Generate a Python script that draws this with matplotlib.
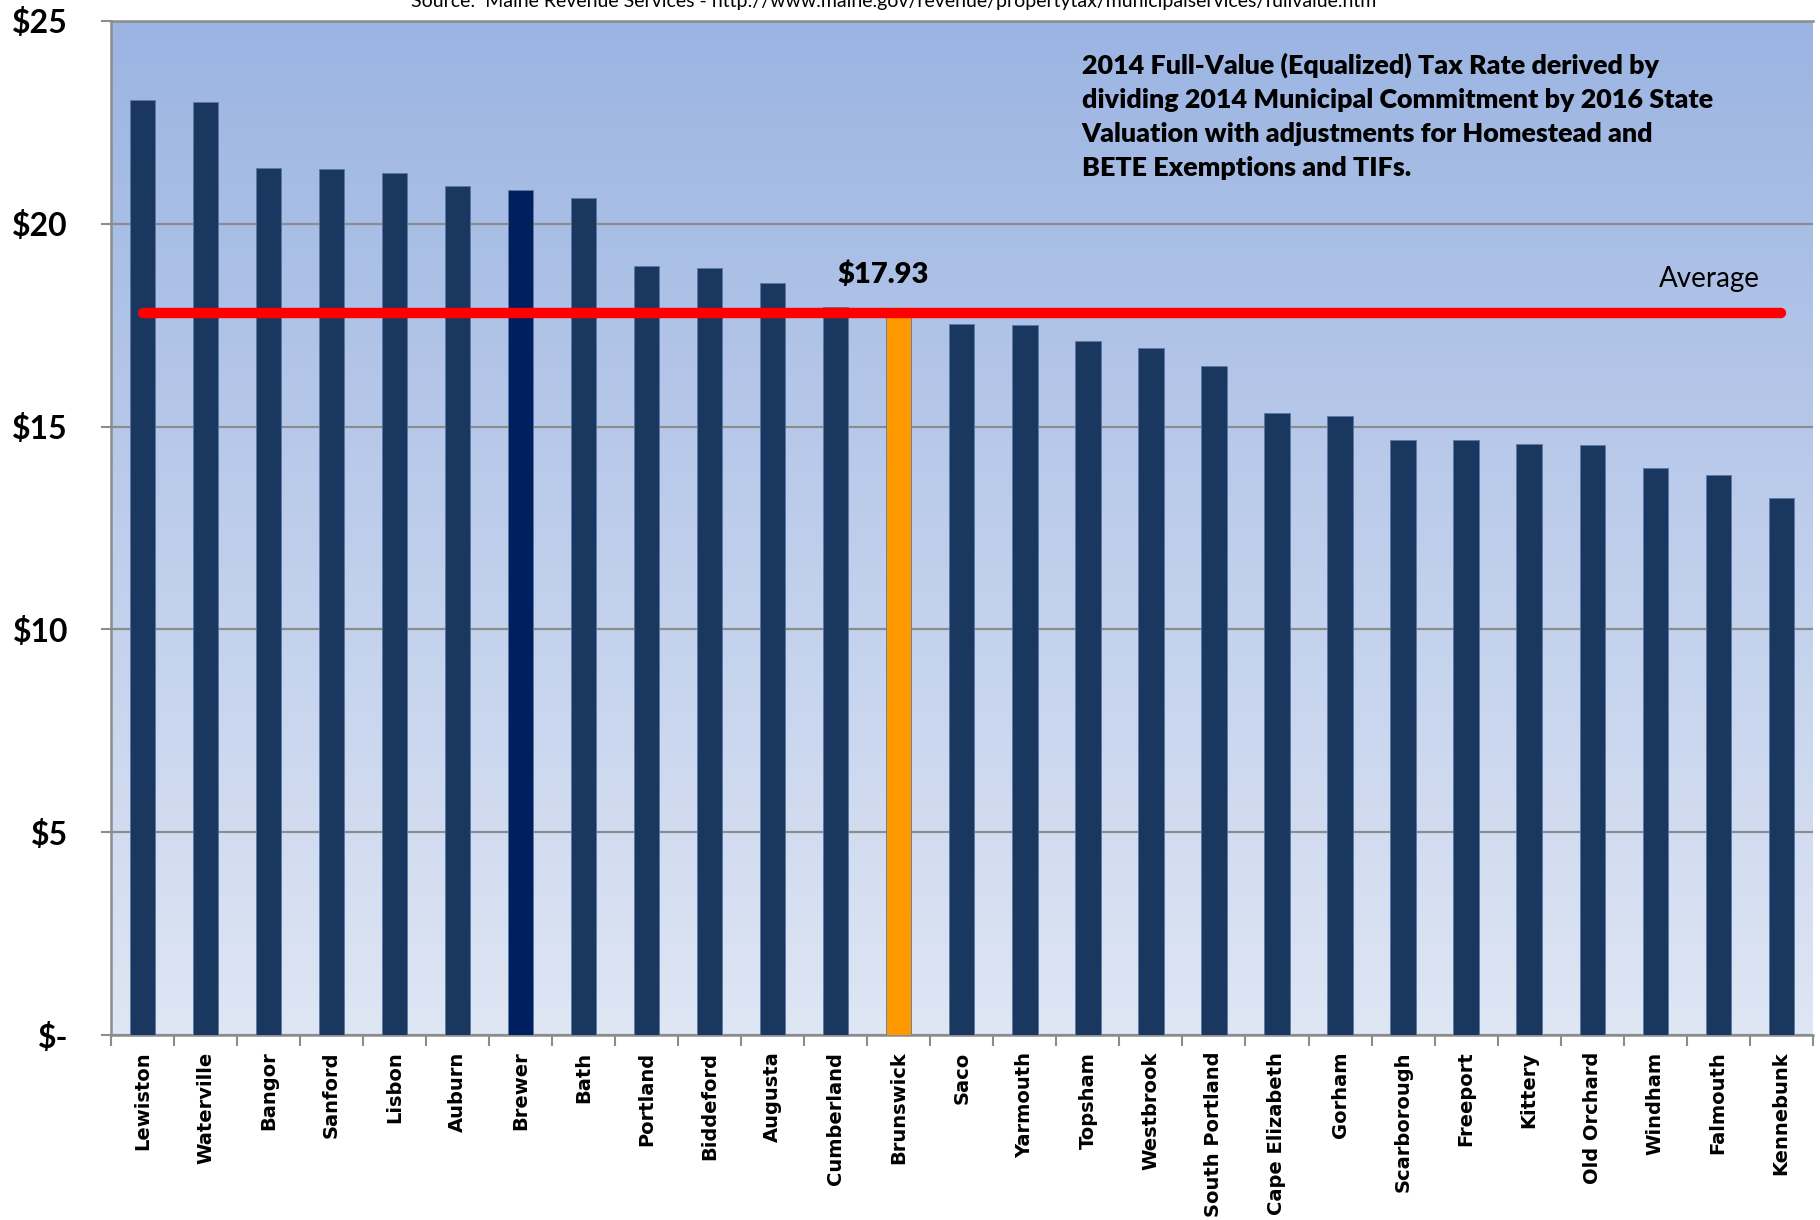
import numpy as np
import matplotlib
matplotlib.use('Agg')
import matplotlib.pyplot as plt
from matplotlib.colors import LinearSegmentedColormap

towns = ['Lewiston', 'Waterville', 'Bangor', 'Sanford', 'Lisbon', 'Auburn', 'Brewer',
         'Bath', 'Portland', 'Biddeford', 'Augusta', 'Cumberland', 'Brunswick', 'Saco',
         'Yarmouth', 'Topsham', 'Westbrook', 'South Portland', 'Cape Elizabeth', 'Gorham',
         'Scarborough', 'Freeport', 'Kittery', 'Old Orchard', 'Windham', 'Falmouth',
         'Kennebunk']
rates = [23.05, 23.01, 21.38, 21.35, 21.25, 20.94, 20.83, 20.63, 18.96, 18.90, 18.53,
         17.95, 17.93, 17.54, 17.50, 17.10, 16.93, 16.49, 15.34, 15.26, 14.67, 14.66,
         14.56, 14.55, 13.97, 13.81, 13.24]
average = 17.80
yticks = [0, 5, 10, 15, 20, 25]
ylabels = ['$-', '$5', '$10', '$15', '$20', '$25']

narrow = ['Lato', 'DejaVu Sans']

colors = ['#1A3760'] * len(towns)
colors[towns.index('Brewer')] = '#001F5F'
colors[towns.index('Brunswick')] = '#FF9900'

fig = plt.figure(figsize=(18.2, 12.2), dpi=100)
ax = fig.add_axes([0.061, 0.1516, 0.935, 0.8312])

# gradient background
grad = np.linspace(0, 1, 256).reshape(-1, 1)
cmap = LinearSegmentedColormap.from_list('bg', ['#DFE6F4', '#9BB4E2'])
ax.imshow(grad, cmap=cmap, aspect='auto', extent=[0, 1, 0, 1],
          transform=ax.transAxes, origin='lower', zorder=0)

x = np.arange(len(towns))
ax.bar(x, rates, width=0.4, color=colors, edgecolor='#5A78A8', linewidth=0.6, zorder=3)
ax.plot([x[0], x[-1]], [average, average], color='red', lw=7.5,
        solid_capstyle='round', zorder=4)

ax.set_xlim(-0.5, len(towns) - 0.5)
ax.set_ylim(0, 25)
ax.set_yticks(yticks)
ax.set_yticklabels(ylabels, fontsize=23, fontweight='bold', family=narrow)
ax.yaxis.grid(True, color='#8C8C8C', linewidth=1.6, zorder=1)
ax.set_axisbelow(True)
ax.tick_params(axis='y', length=7, width=1.5, color='#8C8C8C', pad=24)

ax.set_xticks(x)
ax.set_xticklabels(towns, rotation=90, fontsize=14, fontweight='bold', family='DejaVu Sans')
ax.set_xticks(np.arange(len(towns) + 1) - 0.5, minor=True)
ax.tick_params(axis='x', which='major', length=0, pad=12)
ax.tick_params(axis='x', which='minor', length=8, width=1.5, color='#8C8C8C')

for s in ['left', 'bottom', 'top']:
    ax.spines[s].set_color('#8C8C8C')
    ax.spines[s].set_linewidth(1.8)
ax.spines['right'].set_visible(False)

ax.text(11.75, 18.74, '$17.93', ha='center', va='center', fontsize=21, fontweight='heavy',
        family=narrow, zorder=5)
ax.text(24.86, 18.65, 'Average', ha='center', va='center', fontsize=20, family=narrow, zorder=5)
ax.text(14.9, 24.22,
        '2014 Full-Value (Equalized) Tax Rate derived by\n'
        'dividing 2014 Municipal Commitment by 2016 State\n'
        'Valuation with adjustments for Homestead and\n'
        'BETE Exemptions and TIFs.',
        ha='left', va='top', fontsize=19.4, fontweight='heavy', family=narrow,
        linespacing=1.5, zorder=5)

fig.text(0.491, 0.9985,
         'Source:  Maine Revenue Services - http://www.maine.gov/revenue/propertytax/municipalservices/fullvalue.htm',
         ha='center', va='center', fontsize=14, family=narrow)

fig.savefig('out.png', dpi=100)
